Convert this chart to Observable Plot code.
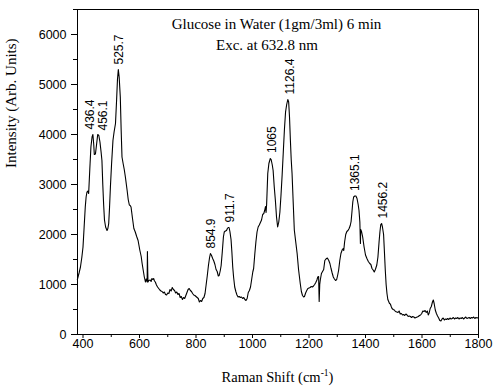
<!DOCTYPE html>
<html>
<head>
<meta charset="utf-8">
<script src="https://cdn.jsdelivr.net/npm/d3@7"></script>
<script src="https://cdn.jsdelivr.net/npm/@observablehq/plot@0.6"></script>
<style>
  html, body { margin: 0; padding: 0; background: white; }
</style>
</head>
<body>
<div id="chart"></div>
<script>
// Raman spectrum: shift (cm-1) and intensity (arb. units)
const ramanShift = [
  380,386,391,396,400,404,408,411,414,417,420,424,428,432,435,438,440,444,448,452,456,460,464,467,470,473,476,480,485,488,491,494,497,501,506,510,515,519,522,525,528,532,535,538,542,546,550,556,560,564,567,570,575,580,585,590,595,601,606,609,613,617,621,624,626,627,628,629,630,633,638,641,644,647,650,653,656,660,664,668,672,676,680,684,688,692,696,700,704,708,712,716,720,724,728,732,736,740,744,748,752,756,760,764,768,772,776,780,784,788,792,796,800,804,808,812,816,820,824,828,832,836,840,844,848,851,855,859,863,867,871,875,879,882,886,889,893,897,900,904,908,911,914,917,920,924,927,930,933,937,941,945,949,953,957,961,965,969,973,977,981,985,989,993,997,1001,1004,1008,1012,1016,1020,1024,1028,1032,1036,1040,1043,1046,1048,1050,1054,1058,1063,1066,1070,1073,1077,1081,1085,1089,1093,1097,1101,1105,1109,1113,1117,1121,1125,1128,1131,1134,1137,1140,1144,1148,1152,1158,1163,1169,1173,1177,1181,1184,1188,1192,1196,1200,1204,1208,1212,1216,1220,1224,1228,1231,1234,1236,1238,1240,1244,1248,1252,1256,1260,1265,1270,1274,1278,1282,1286,1290,1294,1298,1302,1305,1309,1313,1318,1321,1323,1326,1330,1334,1338,1342,1346,1349,1352,1355,1358,1362,1366,1370,1374,1377,1380,1382,1383,1386,1390,1395,1400,1405,1410,1415,1419,1423,1427,1431,1435,1440,1444,1448,1451,1454,1457,1460,1464,1467,1470,1473,1476,1479,1482,1485,1488,1491,1494,1498,1502,1506,1511,1515,1519,1523,1527,1531,1535,1539,1543,1547,1551,1555,1559,1563,1567,1571,1575,1579,1583,1587,1591,1595,1599,1603,1607,1611,1615,1619,1622,1625,1629,1633,1637,1640,1643,1647,1651,1655,1659,1663,1667,1671,1675,1679,1683,1687,1691,1695,1699,1703,1707,1711,1715,1719,1723,1727,1731,1735,1739,1743,1747,1751,1755,1759,1763,1767,1771,1775,1779,1783,1787,1791,1795,1800
];
const intensity = [
  1100,1230,1350,1550,1750,2150,2550,2750,2850,2870,2820,3300,3750,3950,4000,3800,3600,3610,3800,4000,3980,3850,3650,3480,3000,2600,2290,2150,2080,2120,2220,2550,2950,3400,3880,4050,4220,4700,5100,5300,5150,4750,4100,3550,3420,3300,3150,2890,2700,2590,2580,2550,2330,2120,2050,1960,1880,1690,1560,1430,1290,1150,1050,1110,1080,1050,1660,1300,1050,1080,1090,1060,1120,1100,1120,1070,1050,990,950,920,890,870,860,830,850,800,790,830,820,900,870,940,900,880,830,850,800,820,740,760,700,740,720,780,840,900,920,880,860,820,790,780,760,740,720,650,680,660,720,740,820,1000,1180,1380,1540,1620,1580,1520,1470,1400,1300,1260,1170,1180,1280,1380,1650,1950,2050,2070,2080,2120,2140,2140,2060,1900,1650,1350,1150,950,860,790,750,760,740,750,720,740,700,680,720,840,880,950,1100,1250,1320,1600,1850,2050,2150,2190,2240,2290,2400,2420,2480,2560,2440,2600,3220,3420,3520,3500,3390,3280,2950,2680,2350,2150,2250,2450,2800,3200,3650,4100,4450,4600,4700,4650,4350,3900,3500,3220,2650,2090,1900,1620,1300,1020,860,780,750,760,830,880,920,930,940,960,950,970,1000,1040,1090,1150,1160,660,1000,1090,1220,1260,1300,1480,1510,1530,1480,1420,1320,1230,1150,1110,1080,1100,1200,1290,1480,1620,1700,1720,1680,1850,2000,2060,2080,2120,2180,2260,2450,2650,2750,2770,2770,2720,2600,2480,2250,1820,2100,2060,1950,1750,1590,1520,1460,1420,1400,1320,1290,1250,1300,1390,1550,1850,2050,2200,2220,2150,2000,1650,1290,1000,820,700,660,620,610,560,520,500,490,460,450,440,470,410,420,390,400,380,410,390,360,370,360,340,360,350,330,340,350,360,380,390,420,470,460,480,440,470,390,420,520,560,650,690,620,490,420,370,330,280,270,310,330,290,310,300,320,300,330,310,320,340,310,330,320,340,310,330,320,340,310,330,350,320,330,340,320,340,330,350,320,340,330,340
];

// Peak annotations
const peakLabels = ["436.4","456.1","525.7","854.9","911.7","1065","1126.4","1365.1","1456.2"];
const peakLabelShift = [426.5, 471.5, 529, 854, 922, 1069.5, 1134, 1365, 1462.5];
const peakIntensity = [4000, 3980, 5300, 1620, 2140, 3530, 4700, 2770, 2220];

// Axis ticks
const yMajorTicks = [0, 1000, 2000, 3000, 4000, 5000, 6000];
const yMinorTicks = [500, 1500, 2500, 3500, 4500, 5500, 6500];
const xMajorTicks = [400, 600, 800, 1000, 1200, 1400, 1600, 1800];
const xMinorTicks = [500, 700, 900, 1100, 1300, 1500, 1700];

const titleLine1 = "Glucose in Water (1gm/3ml) 6 min";
const titleLine2 = "Exc. at 632.8 nm";
const yLabel = "Intensity (Arb. Units)";

const spectrum = ramanShift.map((x, i) => ({x, y: intensity[i]}));
const peaks = peakLabels.map((t, i) => ({t, x: peakLabelShift[i], y: peakIntensity[i]}));

const W = 497, H = 387, mL = 77, mR = 19, mT = 9, mB = 53;
const plain = d => String(d);

const chart = Plot.plot({
  width: W, height: H,
  marginLeft: mL, marginRight: mR, marginTop: mT, marginBottom: mB,
  style: {fontFamily: "'Liberation Sans', Arial, sans-serif", fontSize: "12.5px", color: "black", background: "white"},
  x: {domain: [380.5, 1800], label: null},
  y: {domain: [0, 6500], label: null},
  marks: [
    Plot.axisY(yMajorTicks, {tickSize: 6, tickPadding: 5, label: null, fontSize: 12.5, tickFormat: plain}),
    Plot.axisY(yMinorTicks, {tickSize: 4, text: null, label: null}),
    Plot.axisX(xMajorTicks, {tickSize: 4, tickPadding: 0.5, label: null, fontSize: 12.5, tickFormat: plain}),
    Plot.axisX(xMinorTicks, {tickSize: 3, text: null, label: null}),
    Plot.frame({stroke: "black", strokeWidth: 1}),
    Plot.line(spectrum, {x: "x", y: "y", stroke: "black", strokeWidth: 1.1}),
    Plot.text(peaks, {x: "x", y: "y", text: "t", rotate: -90, textAnchor: "start", dy: -5, fontSize: 12, fill: "black"}),
    Plot.text([titleLine1], {frameAnchor: "top", text: d => d, lineAnchor: "top", dx: -1.5, dy: 9, fontFamily: "'Liberation Serif', 'Times New Roman', serif", fontSize: 15, fill: "black"}),
    Plot.text([titleLine2], {frameAnchor: "top", text: d => d, lineAnchor: "top", dx: -11, dy: 30, fontFamily: "'Liberation Serif', 'Times New Roman', serif", fontSize: 15, fill: "black"}),
    Plot.text([yLabel], {frameAnchor: "left", text: d => d, rotate: -90, lineAnchor: "bottom", dx: -62, dy: -4, fontFamily: "'Liberation Serif', 'Times New Roman', serif", fontSize: 15, fill: "black"})
  ]
});

document.getElementById("chart").appendChild(chart);

// X axis title with superscript
const svg = d3.select(chart);
const xt = svg.append("text")
  .attr("x", mL + (W - mL - mR) / 2)
  .attr("y", 381.5)
  .attr("text-anchor", "middle")
  .attr("font-family", "'Liberation Serif', 'Times New Roman', serif")
  .attr("font-size", 14.5)
  .attr("fill", "black");
xt.append("tspan").text("Raman Shift (cm");
xt.append("tspan").attr("dy", -6).attr("font-size", 9.5).text("-1");
xt.append("tspan").attr("dy", 6).text(")");
</script>
</body>
</html>
